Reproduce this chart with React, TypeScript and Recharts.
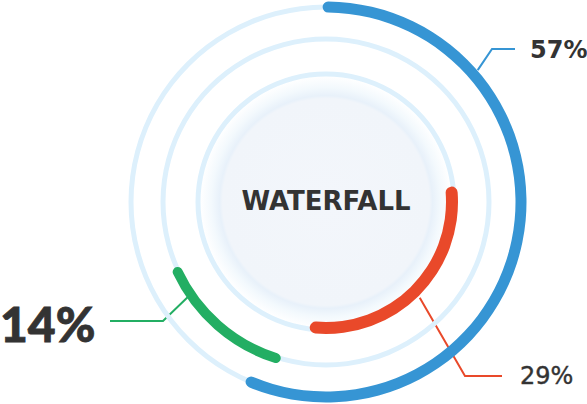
import React from 'react';
import { PieChart, Pie, Cell, Customized } from 'recharts';

// series
const names = ['Blue', 'Red', 'Green'];
const percents = [57, 29, 14];
const colors = ['#3695d4', '#e9492a', '#23ae63'];
const labels = ['57%', '29%', '14%'];
const centerTitle = 'WATERFALL';

// background rings (radius of each track)
const trackRadii = [195, 163, 128];

const W = 587;
const H = 404;
const CX = 326;
const CY = 202;

const toXY = (angle: number, r: number) => ({
  x: CX + r * Math.cos((angle * Math.PI) / 180),
  y: CY - r * Math.sin((angle * Math.PI) / 180),
});

const rest = (v: number) => [
  { name: 'value', value: v },
  { name: 'rest', value: 100 - v },
];

const Annotations = () => {
  const blueStart = toXY(41, 201);
  const redStart = toXY(-45.6, 134);
  const greenStart = toXY(214.5, 167);
  return (
    <g>
      <polyline points={`${blueStart.x},${blueStart.y} 492,49 515,49`} fill="none" stroke={colors[0]} strokeWidth={2} />
      <polyline points={`${redStart.x},${redStart.y} 465,376 502,376`} fill="none" stroke={colors[1]} strokeWidth={2} />
      <polyline points={`${greenStart.x},${greenStart.y} 163,321 110,321`} fill="none" stroke={colors[2]} strokeWidth={2} />
      <text x={530} y={58} fontFamily="DejaVu Sans" fontWeight={700} fontSize={24} fill="#333">{labels[0]}</text>
      <text x={520} y={384} fontFamily="DejaVu Sans" fontWeight={400} fontSize={24} fill="#333" stroke="#333" strokeWidth={0.4}>{labels[1]}</text>
      <text x={0} y={342} fontFamily="Lato" fontWeight={900} fontSize={48} fill="#333" stroke="#333" strokeWidth={0.8}>{labels[2]}</text>
    </g>
  );
};

const CenterLabel = () => (
  <text x={CX} y={210} textAnchor="middle" fontFamily="DejaVu Sans" fontWeight={700} fontSize={26} fill="#333">
    {centerTitle}
  </text>
);

export default function App() {
  return (
    <div style={{ position: 'fixed', left: 0, top: 0, width: W, height: H, background: '#fff' }}>
      <PieChart width={W} height={H} margin={{ top: 0, right: 0, bottom: 0, left: 0 }}>
        <defs>
          <radialGradient id="glow" cx="50%" cy="50%" r="50%">
            <stop offset="0%" stopColor="#f3f6fb" />
            <stop offset="82%" stopColor="#f1f5fa" />
            <stop offset="84.5%" stopColor="#e8f1fa" />
            <stop offset="91%" stopColor="#f3f9fd" />
            <stop offset="100%" stopColor="#ffffff" />
          </radialGradient>
        </defs>
        <Customized component={Annotations} />
        <Pie
          data={[{ name: 'core', value: 1 }]}
          dataKey="value"
          cx={CX}
          cy={CY}
          innerRadius={0}
          outerRadius={126}
          stroke="none"
          fill="url(#glow)"
          label={CenterLabel}
          labelLine={false}
          isAnimationActive={false}
        />
        {trackRadii.map((r, i) => (
          <Pie
            key={'track' + i}
            data={[{ name: 'track', value: 1 }]}
            dataKey="value"
            cx={CX}
            cy={CY}
            innerRadius={r - 2.5}
            outerRadius={r + 2.5}
            stroke="none"
            fill="#ddf0fc"
            isAnimationActive={false}
          />
        ))}
        <Pie
          name={names[0]}
          data={rest(percents[0])}
          dataKey="value"
          cx={CX}
          cy={CY}
          innerRadius={189.5}
          outerRadius={200.5}
          startAngle={91}
          endAngle={-269}
          cornerRadius={5.5}
          stroke="none"
          isAnimationActive={false}
        >
          <Cell fill={colors[0]} />
          <Cell fill="transparent" />
        </Pie>
        <Pie
          name={names[1]}
          data={rest(percents[1])}
          dataKey="value"
          cx={CX}
          cy={CY}
          innerRadius={120}
          outerRadius={132}
          startAngle={7}
          endAngle={-353}
          cornerRadius={6}
          stroke="none"
          isAnimationActive={false}
        >
          <Cell fill={colors[1]} />
          <Cell fill="transparent" />
        </Pie>
        <Pie
          name={names[2]}
          data={rest(percents[2])}
          dataKey="value"
          cx={CX}
          cy={CY}
          innerRadius={159}
          outerRadius={169}
          startAngle={203.5}
          endAngle={563.5}
          cornerRadius={5}
          stroke="none"
          isAnimationActive={false}
        >
          <Cell fill={colors[2]} />
          <Cell fill="transparent" />
        </Pie>
      </PieChart>
    </div>
  );
}
